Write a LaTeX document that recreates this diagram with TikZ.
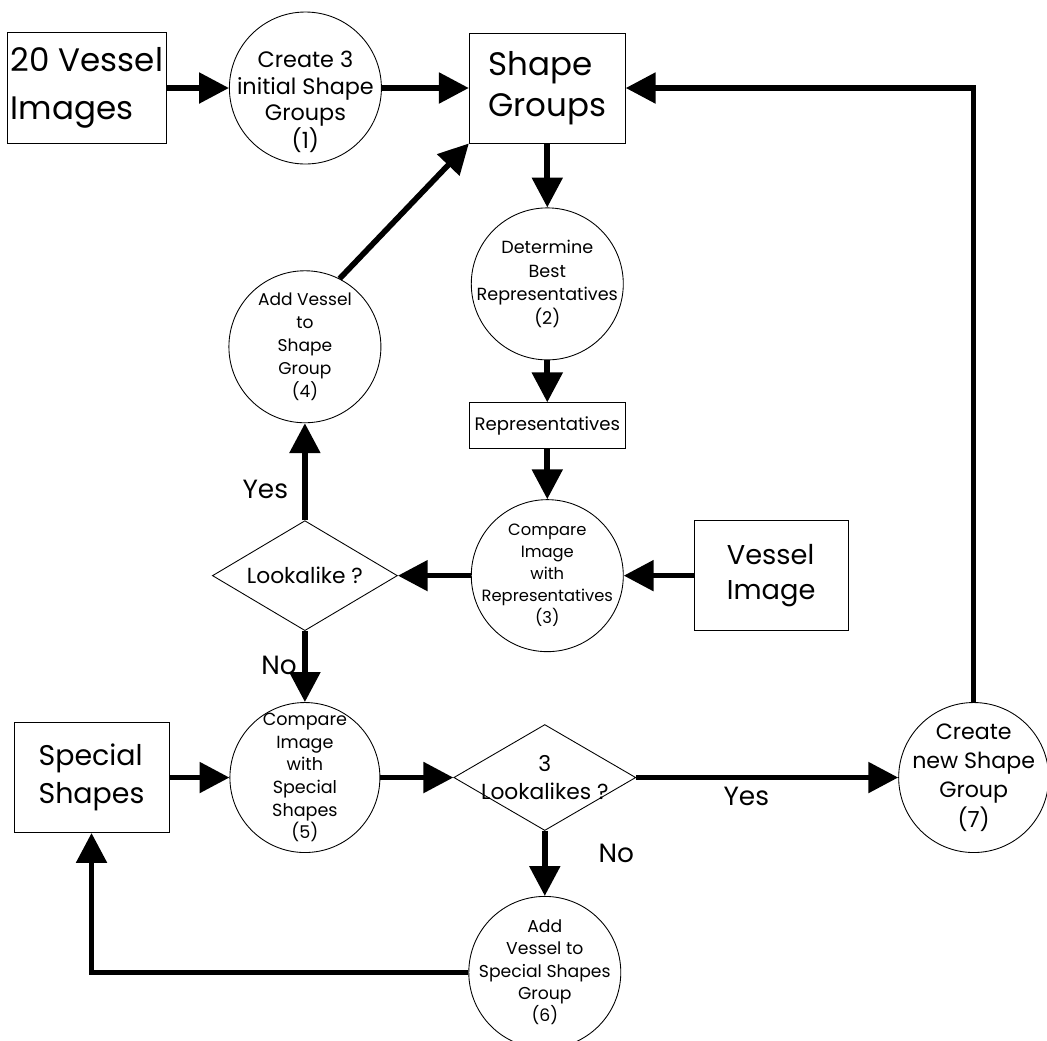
\documentclass[tikz,border=0pt]{standalone}
\usepackage{fontspec}
\setmainfont{Poppins}
\usetikzlibrary{arrows.meta, positioning, shapes.geometric}
\tikzset{
  ioblk/.style  = {draw, line width=0.5pt, minimum width=3.12cm, minimum height=2.2cm,
                   align=left, inner sep=2pt},
  procc/.style  = {draw, circle, line width=0.5pt, minimum size=3.04cm,
                   align=center, inner sep=-12pt},
  decide/.style = {draw, diamond, line width=0.5pt, minimum width=3.7cm, minimum height=2.2cm,
                   shape aspect=1.66, align=center, inner sep=-3pt},
  flow/.style   = {-{Triangle[length=17pt, width=17pt]}, line width=3.2pt},
  yesno/.style  = {font=\fontsize{15}{18}\selectfont, inner sep=1pt},
}
\begin{document}
\begin{tikzpicture}
    \useasboundingbox (0,0) rectangle (20.94,-20.80);

    \node[ioblk, minimum width=3.14cm, minimum height=2.22cm, font=\fontsize{18.5}{27}\selectfont] (imgs) at (1.74,-1.76) {20 Vessel\\Images};
    \node[procc, right=1.24cm of imgs, font=\fontsize{12.7}{15}\selectfont]  (mk3)   {\rule{0pt}{0.9cm}Create 3\\initial Shape\\Groups\\(1)};
    \node[ioblk, right=1.74cm of mk3, font=\fontsize{18.5}{23}\selectfont]    (sg)    {Shape\\Groups};
    \node[procc, below=1.28cm of sg, font=\fontsize{10}{13.4}\selectfont]     (best)  {Determine\\Best\\Representatives\\(2)};
    \node[ioblk, below=0.84cm of best, minimum height=0.92cm, align=center, font=\fontsize{10.3}{13}\selectfont] (reps) {Representatives};
    \node[procc, below=1.0cm of reps, font=\fontsize{9.3}{12.5}\selectfont]   (cmpr)  {Compare\\Image\\with\\Representatives\\(3)};
    \node[ioblk, right=1.4cm of cmpr, minimum width=3.08cm, font=\fontsize{15.5}{20}\selectfont] (vimg) {Vessel\\Image};
    \node[decide, left=1.46cm of cmpr, font=\fontsize{12.4}{15}\selectfont]   (like)  {Lookalike ?};
    \node[procc, above=1.94cm of like, font=\fontsize{9.7}{13}\selectfont]    (addsg) {Add Vessel\\to\\Shape\\Group\\(4)};
    \node[procc, below=1.42cm of like, minimum size=3.0cm, font=\fontsize{10}{12.9}\selectfont] (cmps) {Compare\\Image\\with\\Special\\Shapes\\(5)};
    \node[ioblk, left=1.2cm of cmps, minimum width=3.1cm, font=\fontsize{16.2}{21.6}\selectfont] (spec) {Special\\Shapes};
    \node[decide, right=1.46cm of cmps, minimum width=3.64cm, minimum height=2.12cm, font=\fontsize{12.4}{16}\selectfont] (like3) {3\\Lookalikes ?};
    \node[procc, below=1.3cm of like3, font=\fontsize{9.8}{12.7}\selectfont]  (addsp) {Add\\Vessel to\\Special Shapes\\Group\\(6)};
    \node[procc, right=5.24cm of like3, minimum size=3.0cm, font=\fontsize{12.6}{16.7}\selectfont] (newsg) {Create\\new Shape\\Group\\(7)};

    \draw[flow] (imgs) -- (mk3);
    \draw[flow] (mk3) -- (sg);
    \draw[flow] (sg) -- (best);
    \draw[flow] (best) -- (reps);
    \draw[flow] (reps) -- (cmpr);
    \draw[flow] (vimg) -- (cmpr);
    \draw[flow] (cmpr) -- (like);
    \draw[flow] (like) -- node[yesno, pos=0.32, left=7pt] {Yes} (addsg);
    \draw[flow] (like) -- node[yesno, pos=0.48, left=2pt] {No} (cmps);
    \draw[flow] (addsg.63) -- (sg.south west);
    \draw[flow] (spec) -- (cmps);
    \draw[flow] (cmps) -- (like3);
    \draw[flow] (like3) -- node[yesno, pos=0.42, below=3pt] {Yes} (newsg);
    \draw[flow] (like3) -- node[yesno, pos=0.34, right=28pt] {No} (addsp);
    \draw[flow] (addsp) -| (spec);
    \draw[flow] (newsg) |- (sg);
\end{tikzpicture}
\end{document}
